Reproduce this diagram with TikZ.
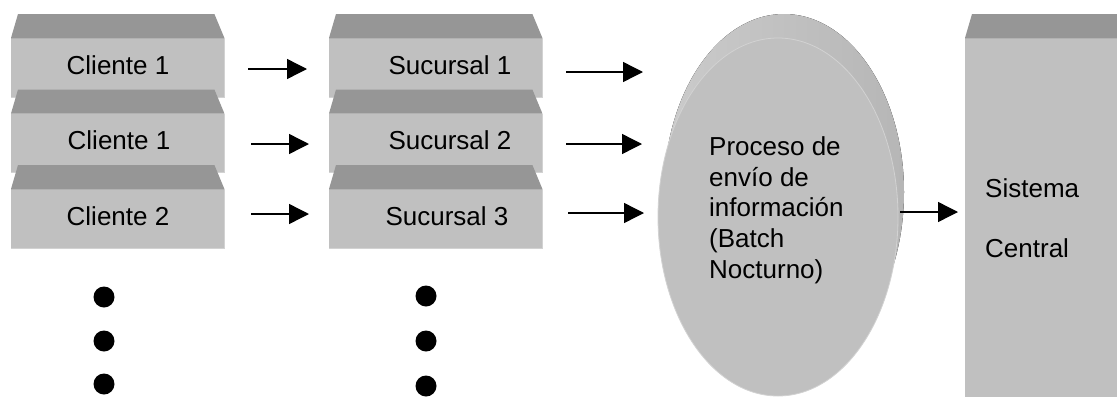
\documentclass[tikz,border=0pt]{standalone}
\usepackage{fontspec}
\setmainfont{Liberation Sans}
\usetikzlibrary{arrows.meta,calc,shapes.geometric}

\definecolor{faceFront}{HTML}{C0C0C0}
\definecolor{faceTop}{HTML}{969696}
\definecolor{seamLine}{HTML}{B2B2B2}
\definecolor{edgeLight}{HTML}{D2D2D2}
\definecolor{bandLight}{HTML}{CBCBCB}
\definecolor{bandDark}{HTML}{9C9C9C}
\definecolor{bandRight}{HTML}{B6B6B6}

% slanted lid on top of a box whose front face is node #1
\newcommand{\drawboxlid}[1]{%
  \fill[faceTop] (#1.north west) -- ++(7,-24) -- ($(#1.north east)+(-10,-24)$) -- (#1.north east) -- cycle;
  \draw[seamLine, line width=1pt] (#1.north west) -- (#1.north east);
  \draw[edgeLight, line width=1pt] (#1.north east) -- (#1.south east) -- (#1.south west);
}

\begin{document}
\begin{tikzpicture}[x=1pt, y=-1pt,
  front/.style={rectangle, fill=faceFront, inner sep=0pt, minimum width=213pt, minimum height=59pt, anchor=north west},
  lbl/.style={font=\fontsize{26}{30.75}\selectfont, inner sep=0pt},
  arr/.style={line width=1.4pt, -{Triangle[length=20pt,width=20pt]}},
  dot/.style={circle, fill=black, inner sep=0pt, minimum size=21pt},
]
\useasboundingbox (0,0) rectangle (1117,397);
\fill[white] (0,0) rectangle (1117,397);

% client stack
\foreach \n/\y in {c1/38, c2/113.5, c3/189} {
  \node[front] (\n) at (11,\y) {};
  \drawboxlid{\n}
}
\node[lbl, anchor=base] (c1t) at (118,74) {Cliente 1};
\node[lbl, anchor=base] (c2t) at (119,149.5) {Cliente 1};
\node[lbl, anchor=base] (c3t) at (118,225) {Cliente 2};

% branch stack
\foreach \n/\y in {s1/38, s2/113.5, s3/189} {
  \node[front] (\n) at (329,\y) {};
  \drawboxlid{\n}
}
\node[lbl, anchor=base] (s1t) at (450,74) {Sucursal 1};
\node[lbl, anchor=base] (s2t) at (450,149.5) {Sucursal 2};
\node[lbl, anchor=base] (s3t) at (447,225) {Sucursal 3};

% batch process: extruded ellipse
\fill[left color=bandLight, middle color=bandDark, right color=bandRight]
  (784,192) ellipse [x radius=120, y radius=178];
\node[ellipse, fill=faceFront, draw=edgeLight, line width=0.8pt, inner sep=0pt,
      minimum width=240pt, minimum height=358pt] (proc) at (778,217) {};
\node[lbl, align=left, anchor=north west] (proct) at (709,136.4)
  {Proceso de\\envío de\\información\\(Batch\\Nocturno)};

% central system
\node[rectangle, fill=faceFront, inner sep=0pt, minimum width=152pt, minimum height=359pt,
      anchor=north west] (cen) at (965,38) {};
\fill[faceTop] (cen.north west) -- ++(7,-24) -- (1117,14) -- (cen.north east) -- cycle;
\draw[seamLine, line width=1pt] (cen.north west) -- (cen.north east);
\node[lbl, align=left, anchor=north west, font=\fontsize{26}{60}\selectfont] (cent) at (985,178.5)
  {Sistema\\Central};

% arrow end points
\coordinate (a1s) at (248,69);  \coordinate (a1e) at (307,69);
\coordinate (a2s) at (251,144); \coordinate (a2e) at (309,144);
\coordinate (a3s) at (251,214); \coordinate (a3e) at (309,214);
\coordinate (b1s) at (566,72);  \coordinate (b1e) at (643,72);
\coordinate (b2s) at (566,144); \coordinate (b2e) at (642,144);
\coordinate (b3s) at (568,213); \coordinate (b3e) at (644,213);
\coordinate (ps)  at (900,212); \coordinate (pe)  at (958,212);

\draw[arr] (a1s) -- (a1e);
\draw[arr] (a2s) -- (a2e);
\draw[arr] (a3s) -- (a3e);
\draw[arr] (b1s) -- (b1e);
\draw[arr] (b2s) -- (b2e);
\draw[arr] (b3s) -- (b3e);
\draw[arr] (ps) -- (pe);

% continuation dots
\node[dot] (d1) at (104,297) {};
\node[dot] (d2) at (104,341) {};
\node[dot] (d3) at (104,384) {};
\node[dot] (d4) at (426,296) {};
\node[dot] (d5) at (426,341) {};
\node[dot] (d6) at (426,386) {};
\end{tikzpicture}
\end{document}
